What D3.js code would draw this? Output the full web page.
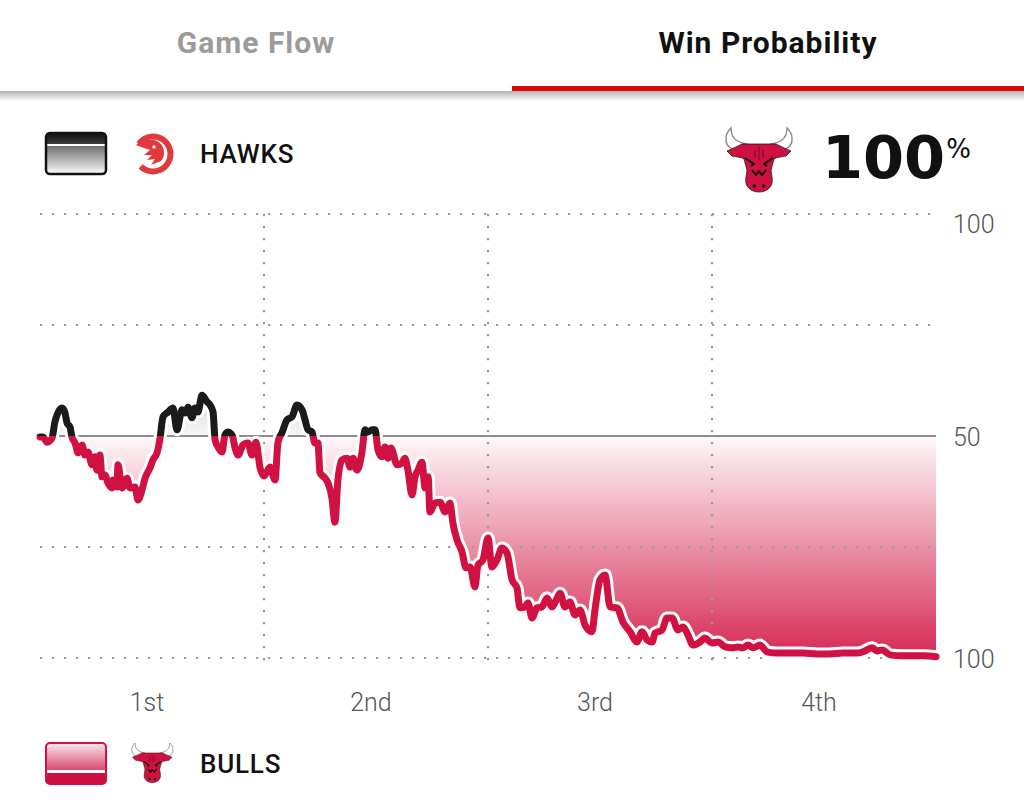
<!DOCTYPE html>
<html><head><meta charset="utf-8">
<script src="https://cdn.jsdelivr.net/npm/d3@7/dist/d3.min.js"></script>
<style>
html,body{margin:0;padding:0;background:#fff;}
svg{display:block;font-family:Roboto,"Noto Sans",sans-serif;}
</style></head><body>
<svg id="chart" width="1024" height="808"></svg>
<script>
// ---------- data ----------
const tabs = ["Game Flow", "Win Probability"];
const quarters = ["1st", "2nd", "3rd", "4th"];
const yTickValues = [100, 50, 0];
const yTickLabels = ["100", "50", "100"];
const teams = ["HAWKS", "BULLS"];
const finalWinPct = "100";
// game clock (minutes elapsed) and Hawks win probability (%)
const minutes = [0,0.16,0.38,0.64,0.80,1.18,1.34,1.45,1.61,1.71,1.88,2.04,2.25,2.41,2.57,2.79,2.95,3.05,3.21,3.32,3.48,3.64,3.86,3.91,4.12,4.18,4.39,4.66,4.82,5.09,5.25,5.46,5.63,5.89,6.05,6.27,6.43,6.59,6.86,7.12,7.34,7.61,7.77,7.93,8.14,8.30,8.46,8.68,8.95,9.11,9.27,9.38,9.54,9.75,9.91,10.07,10.29,10.45,10.61,10.88,11.14,11.36,11.57,11.79,12.00,12.32,12.59,12.75,12.96,13.23,13.50,13.77,14.04,14.20,14.36,14.57,14.73,14.89,15.00,15.27,15.43,15.64,15.80,15.96,16.18,16.45,16.61,16.77,16.98,17.25,17.41,17.57,17.79,17.95,18.11,18.32,18.48,18.64,18.80,19.13,19.39,19.55,19.71,19.93,20.09,20.25,20.46,20.63,20.79,20.89,21.16,21.43,21.70,21.96,22.12,22.34,22.61,22.82,23.04,23.30,23.46,23.73,24.00,24.21,24.48,24.75,25.02,25.29,25.55,25.71,25.98,26.14,26.36,26.62,26.89,27.16,27.43,27.70,27.86,28.12,28.39,28.66,28.93,29.20,29.57,29.73,30.00,30.27,30.54,30.91,31.23,31.61,31.98,32.25,32.52,32.79,32.95,33.32,33.59,33.86,34.18,34.45,34.71,34.98,35.36,35.62,35.89,36.00,36.32,36.70,37.07,37.39,37.66,37.93,38.20,38.57,38.95,39.48,40.18,40.88,41.63,42.32,43.02,43.77,44.09,44.57,44.84,45.11,45.54,46.23,47.30,48.00];
const hawksWinPct = [49.8,49.8,48.6,49.5,53.2,56.3,55.2,52.9,52.0,49.8,48.4,46.2,48.0,45.7,46.4,43.5,45.3,42.3,45.7,40.8,41.2,39.4,38.3,40.1,38.5,43.5,38.3,40.5,38.3,38.5,35.6,37.8,40.5,42.8,44.6,46.2,49.5,54.3,55.4,56.3,51.4,55.9,55.2,56.5,54.1,56.3,55.4,59.2,57.7,57.0,55.4,49.1,47.5,46.4,50.2,50.9,50.2,47.3,45.7,48.0,48.4,45.7,48.6,42.8,41.0,43.0,40.1,48.6,50.7,53.6,54.3,57.0,55.9,53.6,51.4,50.9,48.4,48.4,41.7,40.5,39.4,36.0,30.6,40.1,44.6,45.0,43.0,45.0,42.3,46.4,51.4,50.9,51.4,51.4,46.8,45.3,47.5,45.0,47.3,43.5,43.9,45.0,42.3,36.7,40.8,42.3,44.1,38.3,40.8,32.9,34.9,35.1,32.9,34.9,30.4,26.6,23.9,20.3,20.5,16.0,20.9,22.1,27.0,20.5,22.1,24.8,23.6,17.6,15.8,11.3,11.5,12.4,9.0,11.3,11.5,13.5,11.5,13.5,14.6,11.5,12.6,9.7,10.8,7.4,5.9,10.8,17.6,18.7,11.5,11.3,8.1,5.9,3.6,5.9,4.1,3.6,5.6,6.3,9.0,9.0,6.3,7.0,5.2,2.9,3.6,4.5,3.6,3.4,3.6,2.5,2.3,2.5,2.3,2.9,2.3,2.9,1.4,1.1,1.1,1.1,0.9,0.9,1.1,1.1,1.4,2.3,1.6,1.8,0.7,0.5,0.5,0.3];

const data = minutes.map((m, i) => ({ m, p: hawksWinPct[i] }));

// ---------- setup ----------
const svg = d3.select("#chart");
const defs = svg.append("defs");
const W = 1024;
const red = "#d11141";

// header
svg.append("rect").attr("x", 0).attr("y", 0).attr("width", W).attr("height", 92).attr("fill", "#fff");
const sh = defs.append("linearGradient").attr("id", "shadow").attr("x1", 0).attr("y1", 0).attr("x2", 0).attr("y2", 1);
sh.append("stop").attr("offset", 0).attr("stop-color", "#000").attr("stop-opacity", 0.3);
sh.append("stop").attr("offset", 1).attr("stop-color", "#000").attr("stop-opacity", 0);
svg.append("rect").attr("x", 0).attr("y", 91).attr("width", W).attr("height", 10).attr("fill", "url(#shadow)");
const tabX = d3.scaleBand().domain(tabs).range([0, W]);
svg.selectAll("text.tab").data(tabs).join("text")
  .attr("class", "tab")
  .attr("x", d => tabX(d) + tabX.bandwidth() / 2)
  .attr("y", 53)
  .attr("text-anchor", "middle")
  .attr("font-size", 30).attr("font-weight", 700).attr("letter-spacing", 1)
  .attr("fill", (d, i) => i === 1 ? "#111" : "#9b9b9b")
  .text(d => d);
svg.append("rect").attr("x", tabX(tabs[1])).attr("y", 86).attr("width", tabX.bandwidth()).attr("height", 5).attr("fill", "#d50a0a");

// ---------- chart scales ----------
const x = d3.scaleLinear().domain([0, 48]).range([40, 936]);
const y = d3.scaleLinear().domain([0, 100]).range([658, 214]);

// fill gradient
const fg = defs.append("linearGradient").attr("id", "fillGrad").attr("gradientUnits", "userSpaceOnUse")
  .attr("x1", 0).attr("x2", 0).attr("y1", y(100)).attr("y2", y(0));
[[0, "#333", 1], [0.5, "#555", 0.05], [0.5, red, 0.03], [1, red, 0.9]].forEach(s =>
  fg.append("stop").attr("offset", s[0]).attr("stop-color", s[1]).attr("stop-opacity", s[2]));

const area = d3.area().x(d => x(d.m)).y0(y(50)).y1(d => y(d.p)).curve(d3.curveMonotoneX);
svg.append("path").datum(data).attr("d", area).attr("fill", "url(#fillGrad)");

// grid
const gridG = svg.append("g");
gridG.selectAll("line.h").data([100, 75, 25, 0]).join("line")
  .attr("x1", x(0)).attr("x2", 931).attr("y1", d => y(d)).attr("y2", d => y(d))
  .attr("stroke", "#9a9a9a").attr("stroke-width", 2.2).attr("stroke-dasharray", "2.2 9.8");
gridG.selectAll("line.v").data([12, 24, 36]).join("line")
  .attr("x1", d => x(d)).attr("x2", d => x(d)).attr("y1", y(100)).attr("y2", 664)
  .attr("stroke", "#9a9a9a").attr("stroke-width", 2.2).attr("stroke-dasharray", "2.2 9.8");
svg.append("line").attr("x1", x(0)).attr("x2", x(48)).attr("y1", y(50)).attr("y2", y(50))
  .attr("stroke", "#8c8c8c").attr("stroke-width", 2);

// line
const line = d3.line().x(d => x(d.m)).y(d => y(d.p)).curve(d3.curveMonotoneX);
defs.append("clipPath").attr("id", "above").append("rect").attr("x", 0).attr("y", 0).attr("width", W).attr("height", y(50));
defs.append("clipPath").attr("id", "below").append("rect").attr("x", 0).attr("y", y(50)).attr("width", W).attr("height", 808 - y(50));
svg.append("path").datum(data).attr("d", line).attr("fill", "none")
  .attr("stroke", "#fff").attr("stroke-width", 13).attr("stroke-linejoin", "round").attr("stroke-linecap", "round");
svg.append("path").datum(data).attr("d", line).attr("fill", "none").attr("clip-path", "url(#above)")
  .attr("stroke", "#1b1b1b").attr("stroke-width", 7).attr("stroke-linejoin", "round").attr("stroke-linecap", "round");
svg.append("path").datum(data).attr("d", line).attr("fill", "none").attr("clip-path", "url(#below)")
  .attr("stroke", red).attr("stroke-width", 7).attr("stroke-linejoin", "round").attr("stroke-linecap", "round");

// y axis (right)
const yAxis = svg.append("g").attr("transform", `translate(${x(48)},0)`)
  .call(d3.axisRight(y).tickValues(yTickValues).tickFormat((d, i) => yTickLabels[i]).tickSize(0).tickPadding(17));
yAxis.select(".domain").remove();
yAxis.selectAll("text").attr("font-size", 25).attr("font-weight", 300).attr("fill", "#555")
  .attr("font-family", "Roboto, sans-serif")
  .attr("dy", (d, i) => i === 0 ? "0.72em" : "0.36em");

// x axis (quarters)
const xq = d3.scaleBand().domain(quarters).range([x(0), x(48)]);
const xAxis = svg.append("g").attr("transform", `translate(-5,682)`)
  .call(d3.axisBottom(xq).tickSize(0).tickPadding(11));
xAxis.select(".domain").remove();
xAxis.selectAll("text").attr("font-size", 25).attr("font-weight", 300).attr("fill", "#555")
  .attr("font-family", "Roboto, sans-serif");

// ---------- legend swatches ----------
const hg = defs.append("linearGradient").attr("id", "hawkSw").attr("x1", 0).attr("y1", 0).attr("x2", 0).attr("y2", 1);
[[0, "#111"], [0.26, "#3a3a3a"], [0.26, "#fff"], [0.32, "#fff"], [0.32, "#6e6e6e"], [1, "#fdfdfd"]].forEach(s =>
  hg.append("stop").attr("offset", s[0]).attr("stop-color", s[1]));
svg.append("rect").attr("x", 46).attr("y", 133).attr("width", 60).attr("height", 41).attr("rx", 4)
  .attr("fill", "url(#hawkSw)").attr("stroke", "#111").attr("stroke-width", 2.5);

const bg = defs.append("linearGradient").attr("id", "bullSw").attr("x1", 0).attr("y1", 0).attr("x2", 0).attr("y2", 1);
[[0, "#fbe8ee"], [0.66, "#d94a70"], [0.66, "#fff"], [0.74, "#fff"], [0.74, "#d11141"], [1, "#c80f3d"]].forEach(s =>
  bg.append("stop").attr("offset", s[0]).attr("stop-color", s[1]));
svg.append("rect").attr("x", 46).attr("y", 743).attr("width", 60).attr("height", 41).attr("rx", 4)
  .attr("fill", "url(#bullSw)").attr("stroke", "#d11141").attr("stroke-width", 2);

svg.selectAll("text.team").data(teams).join("text").attr("class", "team")
  .attr("x", 200).attr("y", (d, i) => i === 0 ? 163 : 773)
  .attr("font-size", 26).attr("font-weight", 500).attr("letter-spacing", 0.8).attr("fill", "#111")
  .text(d => d);

// ---------- logos ----------
function hawkLogo(cx, cy) {
  const g = svg.append("g").attr("transform", `translate(${cx},${cy})`);
  g.append("path").attr("d", d3.arc().innerRadius(14.5).outerRadius(20.5).startAngle(-0.3 * Math.PI).endAngle(1.25 * Math.PI)()).attr("fill", "#e03a3e");
  g.append("path").attr("d", "M-17,-9 C-10,-16 2,-16 8,-10 C12,-5 12,3 8,7 L-2,11 L2,5 L-6,6 L-1,1 L-9,1 L-3,-4 C-8,-6 -13,-7 -17,-9 Z").attr("fill", "#e03a3e");
  g.append("circle").attr("cx", 1).attr("cy", -7).attr("r", 1.7).attr("fill", "#fff");
}
function bullLogo(tx, ty, s) {
  const g = svg.append("g").attr("transform", `translate(${tx},${ty}) scale(${s})`);
  const hornL = "M24,22 C12,24 2,20 3,10 C3,6 5,3 8,0 C8,9 12,14 24,16 Z";
  const hornR = "M48,22 C60,24 70,20 69,10 C69,6 67,3 64,0 C64,9 60,14 48,16 Z";
  [hornL, hornR].forEach(d => g.append("path").attr("d", d).attr("fill", "#fff").attr("stroke", "#8a8a8a").attr("stroke-width", 1.4));
  g.append("path").attr("d", "M19,16 L53,16 C57,18 61,20 68,23 L63,28 C58,29 54,29 51,31 L48,42 C48,46 50,50 49,55 C48,60 43,64 36,64 C29,64 24,60 23,55 C22,50 24,46 24,42 L21,31 C18,29 14,29 9,28 L4,23 C11,20 15,18 19,16 Z")
    .attr("fill", "#ce1141").attr("stroke", "#1a1a1a").attr("stroke-width", 0.8);
  g.append("path").attr("d", "M22,30 L31,36 L28,38 M50,30 L41,36 L44,38 M29,42 L33,47 L36,43 L39,47 L43,42")
    .attr("fill", "none").attr("stroke", "#111").attr("stroke-width", 2).attr("stroke-linejoin", "round");
  g.append("path").attr("d", "M36,19 L36,33 M32,22 L32,30 M40,22 L40,30")
    .attr("fill", "none").attr("stroke", "#8a0b2b").attr("stroke-width", 1.2);
  g.append("circle").attr("cx", 31.5).attr("cy", 58).attr("r", 1.8).attr("fill", "#111");
  g.append("circle").attr("cx", 40.5).attr("cy", 58).attr("r", 1.8).attr("fill", "#111");
}
hawkLogo(153, 154);
bullLogo(723, 128, 1.0);
bullLogo(130, 743, 0.62);

// ---------- headline percentage ----------
const pct = svg.append("text").attr("x", 822).attr("y", 178)
  .attr("font-family", "'DejaVu Sans', sans-serif").attr("font-weight", 700).attr("fill", "#111");
pct.append("tspan").attr("font-size", 59).text(finalWinPct);
pct.append("tspan").attr("font-size", 26).attr("font-weight", 400).attr("dy", -20).attr("dx", 1).text("%");
</script>
</body></html>
